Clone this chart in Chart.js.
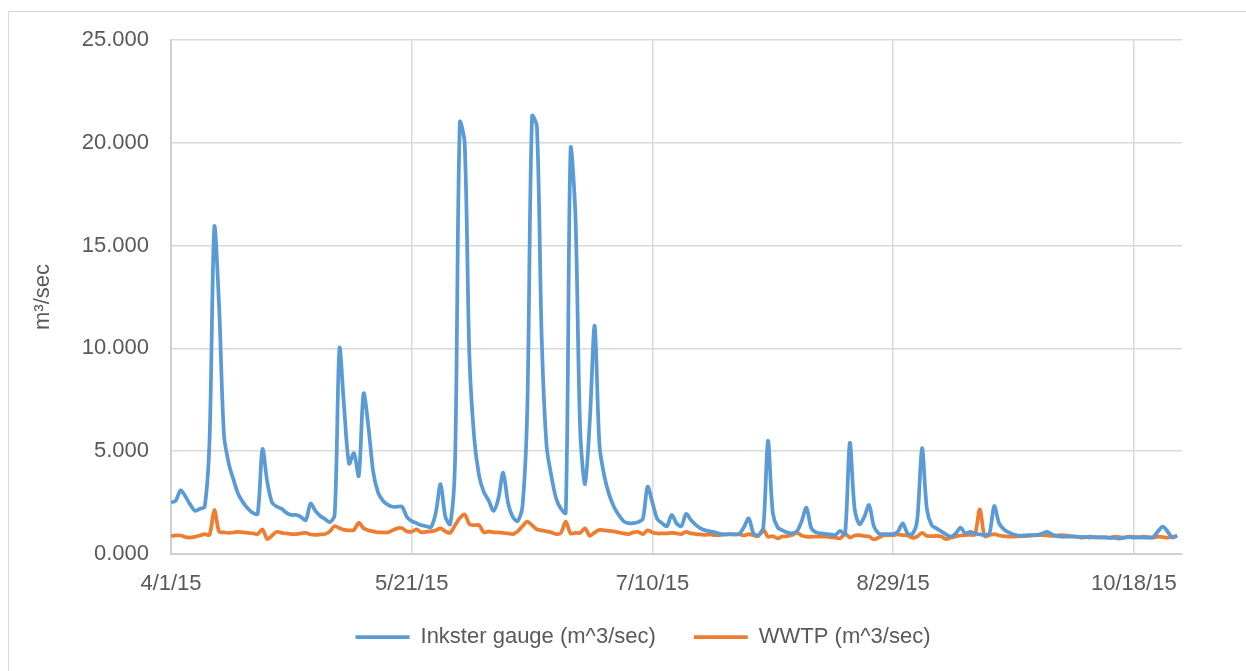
<!DOCTYPE html>
<html>
<head>
<meta charset="utf-8">
<script src="https://cdn.jsdelivr.net/npm/chart.js@4.4.1/dist/chart.umd.min.js"></script>
<style>
html, body { margin: 0; padding: 0; background: #fff; }
#wrap { position: relative; width: 1246px; height: 671px; overflow: hidden; }
#frame { position: absolute; left: 8px; top: 11px; width: 1300px; height: 700px;
         border-left: 1px solid #d9d9d9; border-top: 1px solid #d9d9d9; }
canvas { position: absolute; left: 0; top: 0; }
</style>
</head>
<body>
<div id="wrap">
  <div id="frame"></div>
  <canvas id="flowChart" width="1246" height="671"></canvas>
</div>
<script>
"use strict";
// daily values, 4/1/15 onward (day index = days since 4/1/15)
const inksterGauge = [
    2.5, 2.6, 3.1, 2.8, 2.4, 2.1, 2.2, 2.3, 5.5, 15.9,
    12.0, 5.8, 4.4, 3.6, 2.9, 2.5, 2.2, 2.0, 1.95, 5.1,
    3.5, 2.5, 2.3, 2.2, 2.0, 1.9, 1.9, 1.8, 1.65, 2.45,
    2.1, 1.85, 1.7, 1.55, 1.9, 10.0, 7.0, 4.4, 4.9, 3.8,
    7.8, 6.2, 4.0, 3.0, 2.6, 2.4, 2.3, 2.3, 2.3, 1.8,
    1.6, 1.5, 1.4, 1.35, 1.3, 2.0, 3.4, 1.8, 1.45, 4.5,
    21.0, 20.0, 9.5, 5.6, 3.8, 3.0, 2.6, 2.1, 2.7, 3.96,
    2.5, 1.8, 1.6, 2.3, 7.0, 21.3, 20.8, 10.5, 5.3, 3.8,
    2.7, 2.2, 2.0, 19.7, 16.5, 6.0, 3.4, 6.5, 11.1, 5.3,
    3.8, 2.9, 2.3, 1.9, 1.6, 1.5, 1.5, 1.55, 1.7, 3.27,
    2.5, 1.7, 1.5, 1.35, 1.9, 1.5, 1.35, 1.95, 1.65, 1.42,
    1.25, 1.15, 1.1, 1.05, 0.98, 0.95, 0.95, 0.95, 0.97, 1.3,
    1.73, 1.0, 0.92, 1.2, 5.5, 2.0, 1.3, 1.15, 1.05, 1.0,
    1.1, 1.6, 2.25, 1.25, 1.05, 1.0, 0.97, 0.95, 0.92, 1.13,
    0.95, 5.4, 2.2, 1.45, 1.8, 2.38, 1.35, 1.0, 0.97, 0.97,
    0.97, 1.1, 1.49, 1.0, 0.97, 1.65, 5.15, 2.2, 1.4, 1.25,
    1.1, 0.95, 0.85, 1.0, 1.28, 1.0, 1.08, 1.0, 0.95, 0.92,
    1.0, 2.33, 1.5, 1.2, 1.05, 0.95, 0.9, 0.9, 0.92, 0.92,
    0.93, 1.0, 1.08, 0.95, 0.87, 0.85, 0.85, 0.84, 0.85, 0.83,
    0.82, 0.84, 0.8, 0.82, 0.8, 0.78, 0.78, 0.75, 0.8, 0.82,
    0.8, 0.82, 0.8, 0.8, 0.82, 1.1, 1.33, 1.1, 0.8, 0.9
];
const wwtp = [
    0.88, 0.9, 0.9, 0.82, 0.8, 0.84, 0.9, 0.97, 0.93, 2.14,
    1.08, 1.05, 1.03, 1.05, 1.08, 1.05, 1.03, 1.0, 0.97, 1.2,
    0.72, 0.9, 1.08, 1.03, 1.0, 0.97, 0.97, 1.0, 1.03, 0.95,
    0.93, 0.95, 0.97, 1.1, 1.36, 1.25, 1.17, 1.15, 1.17, 1.52,
    1.25, 1.15, 1.1, 1.05, 1.05, 1.05, 1.15, 1.25, 1.25, 1.1,
    1.08, 1.2, 1.05, 1.08, 1.1, 1.15, 1.25, 1.1, 1.03, 1.4,
    1.75, 1.93, 1.45, 1.4, 1.4, 1.05, 1.1, 1.05, 1.05, 1.03,
    1.0, 0.97, 1.1, 1.35, 1.57, 1.4, 1.2, 1.15, 1.1, 1.05,
    0.97, 1.03, 1.57, 1.0, 1.03, 1.03, 1.25, 0.88, 1.05, 1.17,
    1.15, 1.12, 1.1, 1.05, 1.0, 0.97, 1.05, 1.08, 0.97, 1.15,
    1.05, 1.0, 1.0, 1.0, 1.03, 1.0, 0.97, 1.08, 1.0, 0.97,
    0.95, 0.93, 0.95, 0.92, 0.92, 0.95, 0.97, 0.95, 0.97, 0.9,
    0.97, 0.9, 0.87, 1.2, 0.84, 0.87, 0.76, 0.85, 0.87, 0.92,
    1.03, 0.9, 0.84, 0.84, 0.85, 0.84, 0.85, 0.82, 0.8, 0.76,
    1.0, 0.8, 0.9, 0.92, 0.87, 0.85, 0.71, 0.8, 0.9, 0.92,
    0.92, 0.95, 0.92, 0.9, 0.78, 0.85, 1.03, 0.88, 0.87, 0.88,
    0.85, 0.72, 0.8, 0.85, 0.9, 0.92, 0.93, 0.95, 2.17, 0.87,
    0.92, 0.97, 0.9, 0.87, 0.85, 0.84, 0.86, 0.87, 0.88, 0.9,
    0.92, 0.92, 0.9, 0.88, 0.9, 0.92, 0.9, 0.87, 0.85, 0.8,
    0.82, 0.8, 0.83, 0.8, 0.82, 0.8, 0.84, 0.82, 0.8, 0.85,
    0.83, 0.8, 0.84, 0.82, 0.8, 0.84, 0.82, 0.8, 0.84, 0.87
];
const tickDays = [0, 50, 100, 150, 200];
const tickLabels = ["4/1/15", "5/21/15", "7/10/15", "8/29/15", "10/18/15"];
const lastDay = 210;

const textColor = "#595959";
const fontFamily = "'Liberation Sans', Arial, sans-serif";
const fontSize = 22;
const toPoints = arr => arr.map((v, i) => ({ x: i, y: v }));

// nudge the legend row to where Excel put it
const legendPlacer = {
    id: "legendPlacer",
    afterLayout(chart) {
        const lg = chart.legend;
        lg.left += 42;
        lg.right += 42;
        lg.top = 588;
        lg.bottom = chart.height;
    }
};

new Chart(document.getElementById("flowChart"), {
    type: "line",
    data: {
        datasets: [{
            label: "Inkster gauge (m^3/sec)",
            data: toPoints(inksterGauge),
            borderColor: "#5b9bd5",
            backgroundColor: "#5b9bd5",
            borderWidth: 3.75,
            pointRadius: 0,
            tension: 0.3
        }, {
            label: "WWTP (m^3/sec)",
            data: toPoints(wwtp),
            borderColor: "#ed7d31",
            backgroundColor: "#ed7d31",
            borderWidth: 3.75,
            pointRadius: 0,
            tension: 0.3
        }]
    },
    plugins: [legendPlacer],
    options: {
        responsive: false,
        animation: false,
        layout: { padding: { left: 20, right: 64, top: 40, bottom: 13 } },
        plugins: {
            tooltip: { enabled: false },
            legend: {
                position: "bottom",
                maxHeight: 44,
                labels: {
                    usePointStyle: true,
                    pointStyle: "line",
                    pointStyleWidth: 54,
                    padding: 38,
                    color: textColor,
                    font: { family: fontFamily, size: fontSize }
                }
            }
        },
        scales: {
            x: {
                type: "linear",
                min: 0,
                max: lastDay,
                afterBuildTicks: s => { s.ticks = tickDays.map(v => ({ value: v })); },
                afterFit: s => { s.height = 60; },
                ticks: {
                    callback: (v, i) => tickLabels[i],
                    color: textColor,
                    padding: 17,
                    maxRotation: 0,
                    font: { family: fontFamily, size: fontSize }
                },
                grid: { color: "#d9d9d9", lineWidth: 1.5, drawTicks: false },
                border: { color: "#d0d0d0", width: 2 }
            },
            y: {
                min: 0,
                max: 25,
                afterFit: s => { s.width = 151; },
                ticks: {
                    stepSize: 5,
                    callback: v => v.toFixed(3),
                    color: textColor,
                    padding: 22,
                    font: { family: fontFamily, size: fontSize }
                },
                grid: { color: "#d9d9d9", lineWidth: 1.5, drawTicks: false },
                border: { color: "#d0d0d0", width: 2 },
                title: {
                    display: true,
                    text: "m³/sec",
                    color: textColor,
                    padding: { top: 10, bottom: 0 },
                    font: { family: fontFamily, size: fontSize }
                }
            }
        }
    }
});
</script>
</body>
</html>
